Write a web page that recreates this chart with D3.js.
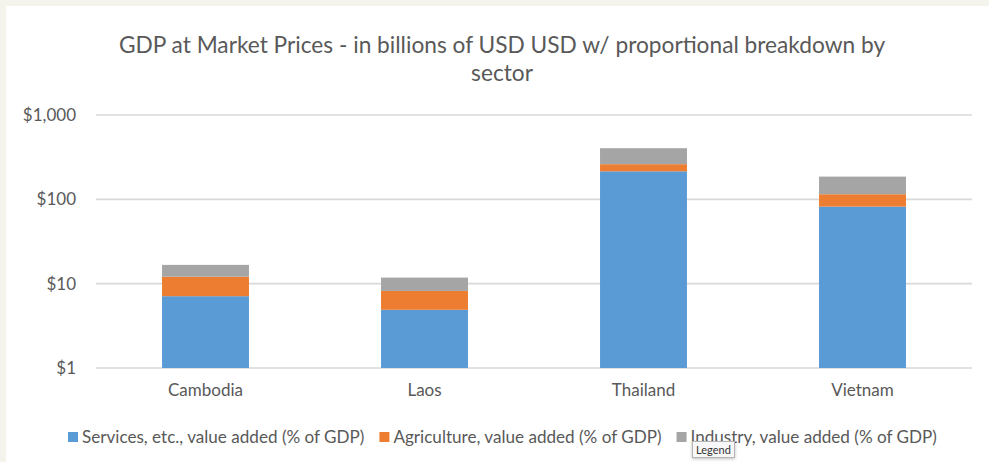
<!DOCTYPE html>
<html>
<head>
<meta charset="utf-8">
<script src="https://cdn.jsdelivr.net/npm/d3@7"></script>
<style>
  body { margin: 0; background: #f4f3ec; }
  #chart { position: absolute; left: 6px; top: 6px; width: 983px; height: 456px; background: #fff; overflow: hidden; }
  .tip {
    position: absolute; font: 11px Lato, sans-serif; color: #333;
    background: #f8f8f8; border: 1px solid #b5b5b5; padding: 1px 3px;
    box-shadow: 0 1px 3px rgba(0,0,0,0.25);
  }
</style>
</head>
<body>
<div id="chart"></div>
<script>
// chart data (billions of USD, stacked by sector)
var countries = ["Cambodia", "Laos", "Thailand", "Vietnam"];
var services = [7.1, 4.9, 215, 82];
var agriculture = [5.0, 3.3, 46, 33];
var industry = [4.6, 3.6, 143, 71];
var seriesNames = [
  "Services, etc., value added (% of GDP)",
  "Agriculture, value added (% of GDP)",
  "Industry, value added (% of GDP)"
];
var tickValues = [1, 10, 100, 1000];

var colors = ["#5b9bd5", "#ed7d31", "#a5a5a5"];
var textColor = "#595959";
var font = "Lato, 'Open Sans', sans-serif";

// page offset of the white panel
var ox = 6, oy = 6;

var svg = d3.select("#chart").append("svg")
  .attr("width", 983)
  .attr("height", 456)
  .append("g")
  .attr("transform", "translate(" + (-ox) + "," + (-oy) + ")");

// build rows for the stack
var rows = countries.map(function (c, i) {
  return { country: c, s0: services[i], s1: agriculture[i], s2: industry[i] };
});
var stacked = d3.stack().keys(["s0", "s1", "s2"])(rows);

var x = d3.scaleBand()
  .domain(countries)
  .range([96, 972])
  .paddingInner(0.603)
  .paddingOuter(0.3015);

var y = d3.scaleLog()
  .domain([1, 1000])
  .range([368, 115]);

// title
var title = svg.append("text")
  .attr("text-anchor", "middle")
  .style("font-family", font)
  .style("font-size", "22.7px")
  .style("fill", textColor);
title.append("tspan").attr("x", 502).attr("y", 53)
  .text("GDP at Market Prices - in billions of USD USD w/ proportional breakdown by");
title.append("tspan").attr("x", 502).attr("y", 81).text("sector");

// gridlines
svg.append("g").selectAll("line")
  .data(tickValues)
  .join("line")
  .attr("x1", 96).attr("x2", 972)
  .attr("y1", function (d) { return y(d); })
  .attr("y2", function (d) { return y(d); })
  .attr("stroke", "#d9d9d9")
  .attr("stroke-width", 1.6);

// y axis labels
var yAxis = d3.axisLeft(y)
  .tickValues(tickValues)
  .tickSize(0)
  .tickPadding(0)
  .tickFormat(function (d) { return "$" + d3.format(",")(d); });
svg.append("g")
  .attr("transform", "translate(76,0)")
  .call(yAxis)
  .call(function (g) {
    g.select(".domain").remove();
    g.selectAll("text")
      .style("font-family", font)
      .style("font-size", "17px")
      .style("fill", textColor);
  });

// bars
svg.append("g").selectAll("g")
  .data(stacked)
  .join("g")
  .attr("fill", function (d, i) { return colors[i]; })
  .selectAll("rect")
  .data(function (d) { return d; })
  .join("rect")
  .attr("x", function (d) { return x(d.data.country); })
  .attr("width", x.bandwidth())
  .attr("y", function (d) { return y(d[1]); })
  .attr("height", function (d) { return y(Math.max(d[0], 1)) - y(d[1]); });

// x axis labels
var xAxis = d3.axisBottom(x).tickSize(0).tickPadding(0);
svg.append("g")
  .attr("transform", "translate(0,384)")
  .call(xAxis)
  .call(function (g) {
    g.select(".domain").remove();
    g.selectAll("text")
      .attr("dy", "0.71em")
      .style("font-family", font)
      .style("font-size", "17px")
      .style("fill", textColor);
  });

// legend
var legend = svg.append("g").attr("transform", "translate(0,437)");
var lx = 68;
seriesNames.forEach(function (name, i) {
  legend.append("rect")
    .attr("x", lx).attr("y", -5)
    .attr("width", 10).attr("height", 10)
    .attr("fill", colors[i]);
  var t = legend.append("text")
    .attr("x", lx + 14).attr("y", 0)
    .attr("dy", "0.35em")
    .style("font-family", font)
    .style("font-size", "17.1px")
    .style("fill", textColor)
    .text(name);
  lx += 14 + t.node().getComputedTextLength() + 15;
});

// hover tooltip over the legend
d3.select("#chart").append("div")
  .attr("class", "tip")
  .style("left", (692 - ox) + "px")
  .style("top", (441 - oy) + "px")
  .text("Legend");
</script>
</body>
</html>
